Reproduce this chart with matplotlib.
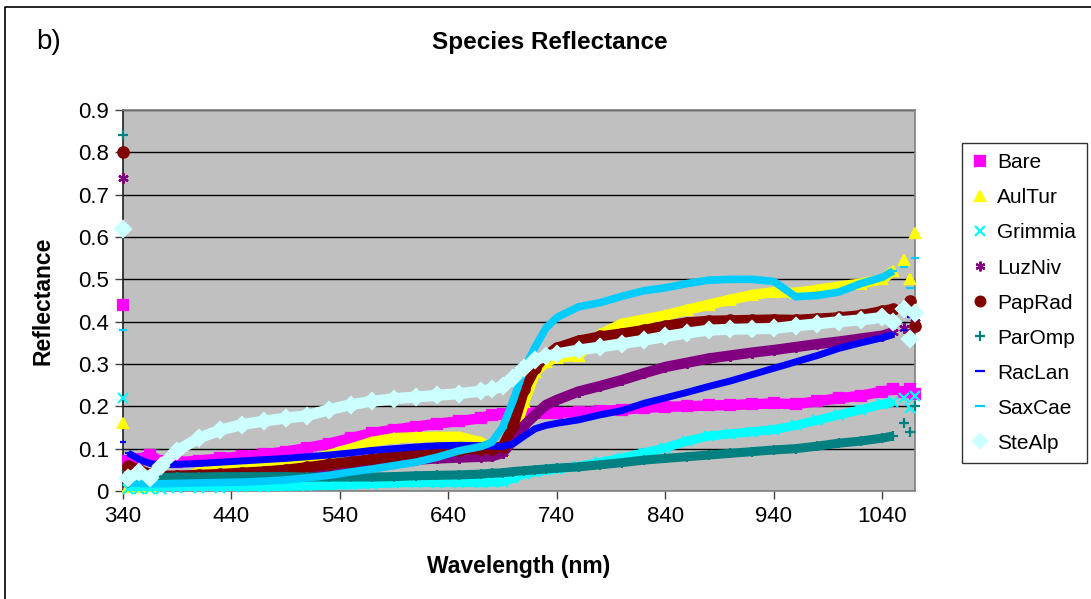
import matplotlib
matplotlib.use("Agg")
import matplotlib.pyplot as plt
from matplotlib.lines import Line2D

plt.rcParams['font.family'] = ['Liberation Sans', 'DejaVu Sans']

# Wavelength grid (nm) and mean reflectance per species
wavelength = [340, 345, 355, 365, 375, 390, 410, 430, 450, 470, 490, 510, 530, 550,
              570, 590, 610, 630, 650, 670, 680, 690, 700, 710, 720, 730, 740, 760,
              780, 800, 820, 840, 860, 880, 900, 920, 940, 960, 980, 1000, 1020,
              1040, 1050, 1060, 1065, 1070]

bare = [0.44, 0.07, 0.075, 0.085, 0.07, 0.068, 0.072, 0.077, 0.082, 0.087, 0.093, 0.102,
        0.112, 0.125, 0.137, 0.145, 0.152, 0.159, 0.165, 0.172, 0.18, 0.181, 0.182,
        0.183, 0.184, 0.184, 0.185, 0.186, 0.189, 0.192, 0.196, 0.199, 0.2, 0.202,
        0.203, 0.205, 0.207, 0.205, 0.212, 0.219, 0.225, 0.235, 0.24, 0.235, 0.24, 0.23]
aultur = [0.16, 0.01, 0.01, 0.012, 0.015, 0.02, 0.045, 0.05, 0.055, 0.06, 0.065, 0.072,
          0.085, 0.1, 0.116, 0.125, 0.127, 0.128, 0.128, 0.115, 0.1, 0.095, 0.13, 0.21,
          0.28, 0.305, 0.315, 0.32, 0.37, 0.395, 0.405, 0.415, 0.428, 0.44, 0.452, 0.463,
          0.47, 0.468, 0.475, 0.483, 0.49, 0.5, 0.52, 0.545, 0.5, 0.61]
grimmia = [0.22, 0.005, 0.005, 0.005, 0.005, 0.006, 0.007, 0.008, 0.009, 0.01, 0.011,
           0.012, 0.013, 0.015, 0.017, 0.019, 0.02, 0.02, 0.02, 0.02, 0.021, 0.022, 0.03,
           0.04, 0.045, 0.049, 0.052, 0.058, 0.068, 0.078, 0.09, 0.102, 0.118, 0.13,
           0.135, 0.14, 0.145, 0.155, 0.167, 0.18, 0.192, 0.205, 0.21, 0.22, 0.195, 0.225]
luzniv = [0.74, 0.03, 0.03, 0.03, 0.032, 0.033, 0.035, 0.037, 0.04, 0.043, 0.047, 0.052,
          0.057, 0.062, 0.067, 0.071, 0.074, 0.077, 0.079, 0.081, 0.082, 0.09, 0.12,
          0.155, 0.18, 0.203, 0.215, 0.235, 0.248, 0.262, 0.278, 0.293, 0.303, 0.313,
          0.32, 0.327, 0.333, 0.34, 0.347, 0.353, 0.36, 0.367, 0.375, 0.385, 0.37, 0.4]
paprad = [0.80, 0.06, 0.05, 0.04, 0.036, 0.036, 0.038, 0.04, 0.043, 0.046, 0.05, 0.056,
          0.063, 0.069, 0.075, 0.082, 0.088, 0.094, 0.097, 0.1, 0.1, 0.105, 0.155, 0.24,
          0.29, 0.32, 0.338, 0.355, 0.365, 0.372, 0.38, 0.39, 0.398, 0.402, 0.403, 0.404,
          0.405, 0.404, 0.407, 0.41, 0.415, 0.425, 0.43, 0.435, 0.45, 0.39]
paromp = [0.84, 0.02, 0.025, 0.03, 0.032, 0.033, 0.033, 0.034, 0.034, 0.034, 0.034,
          0.033, 0.033, 0.033, 0.033, 0.034, 0.036, 0.037, 0.038, 0.04, 0.042, 0.043,
          0.046, 0.048, 0.05, 0.052, 0.054, 0.057, 0.062, 0.067, 0.073, 0.077, 0.081,
          0.085, 0.089, 0.093, 0.097, 0.1, 0.106, 0.113, 0.118, 0.125, 0.13, 0.16, 0.14, 0.2]
raclan = [0.115, 0.09, 0.075, 0.065, 0.062, 0.063, 0.065, 0.068, 0.071, 0.074, 0.077,
          0.081, 0.085, 0.09, 0.096, 0.1, 0.104, 0.107, 0.108, 0.107, 0.106, 0.105,
          0.112, 0.13, 0.147, 0.155, 0.16, 0.168, 0.18, 0.19, 0.207, 0.22, 0.233, 0.247,
          0.26, 0.275, 0.29, 0.305, 0.32, 0.337, 0.35, 0.362, 0.37, 0.38, 0.41, 0.43]
saxcae = [0.38, 0.02, 0.018, 0.017, 0.017, 0.018, 0.019, 0.02, 0.021, 0.023, 0.026,
          0.031, 0.037, 0.045, 0.052, 0.06, 0.068, 0.08, 0.095, 0.105, 0.115, 0.15,
          0.215, 0.29, 0.34, 0.385, 0.41, 0.435, 0.445, 0.46, 0.473, 0.48, 0.49, 0.498,
          0.5, 0.5, 0.495, 0.459, 0.462, 0.47, 0.49, 0.505, 0.52, 0.53, 0.48, 0.55]
stealp = [0.62, 0.03, 0.045, 0.03, 0.06, 0.095, 0.125, 0.144, 0.157, 0.165, 0.172,
          0.178, 0.192, 0.204, 0.212, 0.218, 0.222, 0.226, 0.23, 0.236, 0.24, 0.247,
          0.268, 0.29, 0.31, 0.318, 0.324, 0.333, 0.34, 0.348, 0.356, 0.365, 0.373,
          0.38, 0.382, 0.383, 0.384, 0.39, 0.395, 0.4, 0.404, 0.41, 0.4, 0.43, 0.36, 0.42]

species = ['Bare', 'AulTur', 'Grimmia', 'LuzNiv', 'PapRad', 'ParOmp', 'RacLan',
           'SaxCae', 'SteAlp']
series = [bare, aultur, grimmia, luzniv, paprad, paromp, raclan, saxcae, stealp]

colors = ['#ff00ff', '#ffff00', '#00ffff', '#800080', '#800000', '#008080',
          '#0000ff', '#00ccff', '#ccffff']
markers = ['s', '^', 'x', (6, 2, 0), 'o', '+', '_', '_', 'D']
band_width = [7.5, 7.5, 6.5, 7.5, 7.5, 6.5, 5.0, 5.5, 8.0]

xticks = [340, 440, 540, 640, 740, 840, 940, 1040]
yticks = [0, 0.1, 0.2, 0.3, 0.4, 0.5, 0.6, 0.7, 0.8, 0.9]

fig = plt.figure(figsize=(10.91, 5.99), dpi=100)
ax = fig.add_axes([122.7 / 1091, 1 - 491 / 599, (915 - 122.7) / 1091, (491 - 110) / 599])
ax.set_facecolor('#c0c0c0')

handles = []
for i, (name, vals) in enumerate(zip(species, series)):
    c = colors[i]
    z = 3 + i
    # first reading is an outlier and the tail is noisy: band covers the middle only
    ax.plot(wavelength[1:-3], vals[1:-3], color=c, lw=band_width[i],
            solid_capstyle='butt', zorder=z)
    ax.plot(wavelength, vals, linestyle='none', marker=markers[i], color=c,
            markersize=band_width[i], markeredgewidth=1.6, zorder=z,
            clip_on=False)
    handles.append(Line2D([], [], linestyle='none', marker=markers[i], color=c,
                          markersize=7, markeredgewidth=1.6))

ax.set_xlim(340, 1070)
ax.set_ylim(0, 0.9)
ax.set_xticks(xticks)
ax.set_xticklabels([str(t) for t in xticks])
ax.set_yticks(yticks)
ax.set_yticklabels(['0' if t == 0 else '%.1f' % t for t in yticks])
ax.grid(axis='y', color='black', linewidth=1.0, zorder=1)
ax.set_axisbelow(True)
ax.tick_params(axis='both', direction='out', length=6, width=1, color='#404040',
               labelsize=16)
ax.tick_params(axis='y', pad=4)
ax.tick_params(axis='x', pad=5)
for side in ['left', 'bottom', 'right', 'top']:
    ax.spines[side].set_color('#808080')
    ax.spines[side].set_linewidth(1.2)
ax.spines['left'].set_color('#202020')

ax.set_xlabel('Wavelength (nm)', fontsize=16.5, fontweight='bold', labelpad=20)
ax.set_ylabel('Reflectance', fontsize=16.5, fontweight='bold', labelpad=17)

fig.text(550 / 1091, 1 - 42 / 599, 'Species Reflectance', ha='center', va='center',
         fontsize=17.5, fontweight='bold')
fig.text(36 / 1091, 1 - 42 / 599, 'b)', ha='left', va='center', fontsize=20)

leg = fig.legend(handles, species, loc='upper left',
                 bbox_to_anchor=(962 / 1091, 1 - 143 / 599), borderaxespad=0,
                 fontsize=15, frameon=True, fancybox=False, edgecolor='black',
                 handlelength=0.7, handletextpad=0.5, labelspacing=0.77,
                 borderpad=0.5)
leg.get_frame().set_linewidth(1.0)

# outer chart border (top and left edges)
fig.add_artist(Line2D([4.5 / 1091, 4.5 / 1091, 1.0], [0.0, 1 - 7 / 599, 1 - 7 / 599],
                      transform=fig.transFigure, color='black', lw=1.2))

fig.savefig('out.png', dpi=100)
